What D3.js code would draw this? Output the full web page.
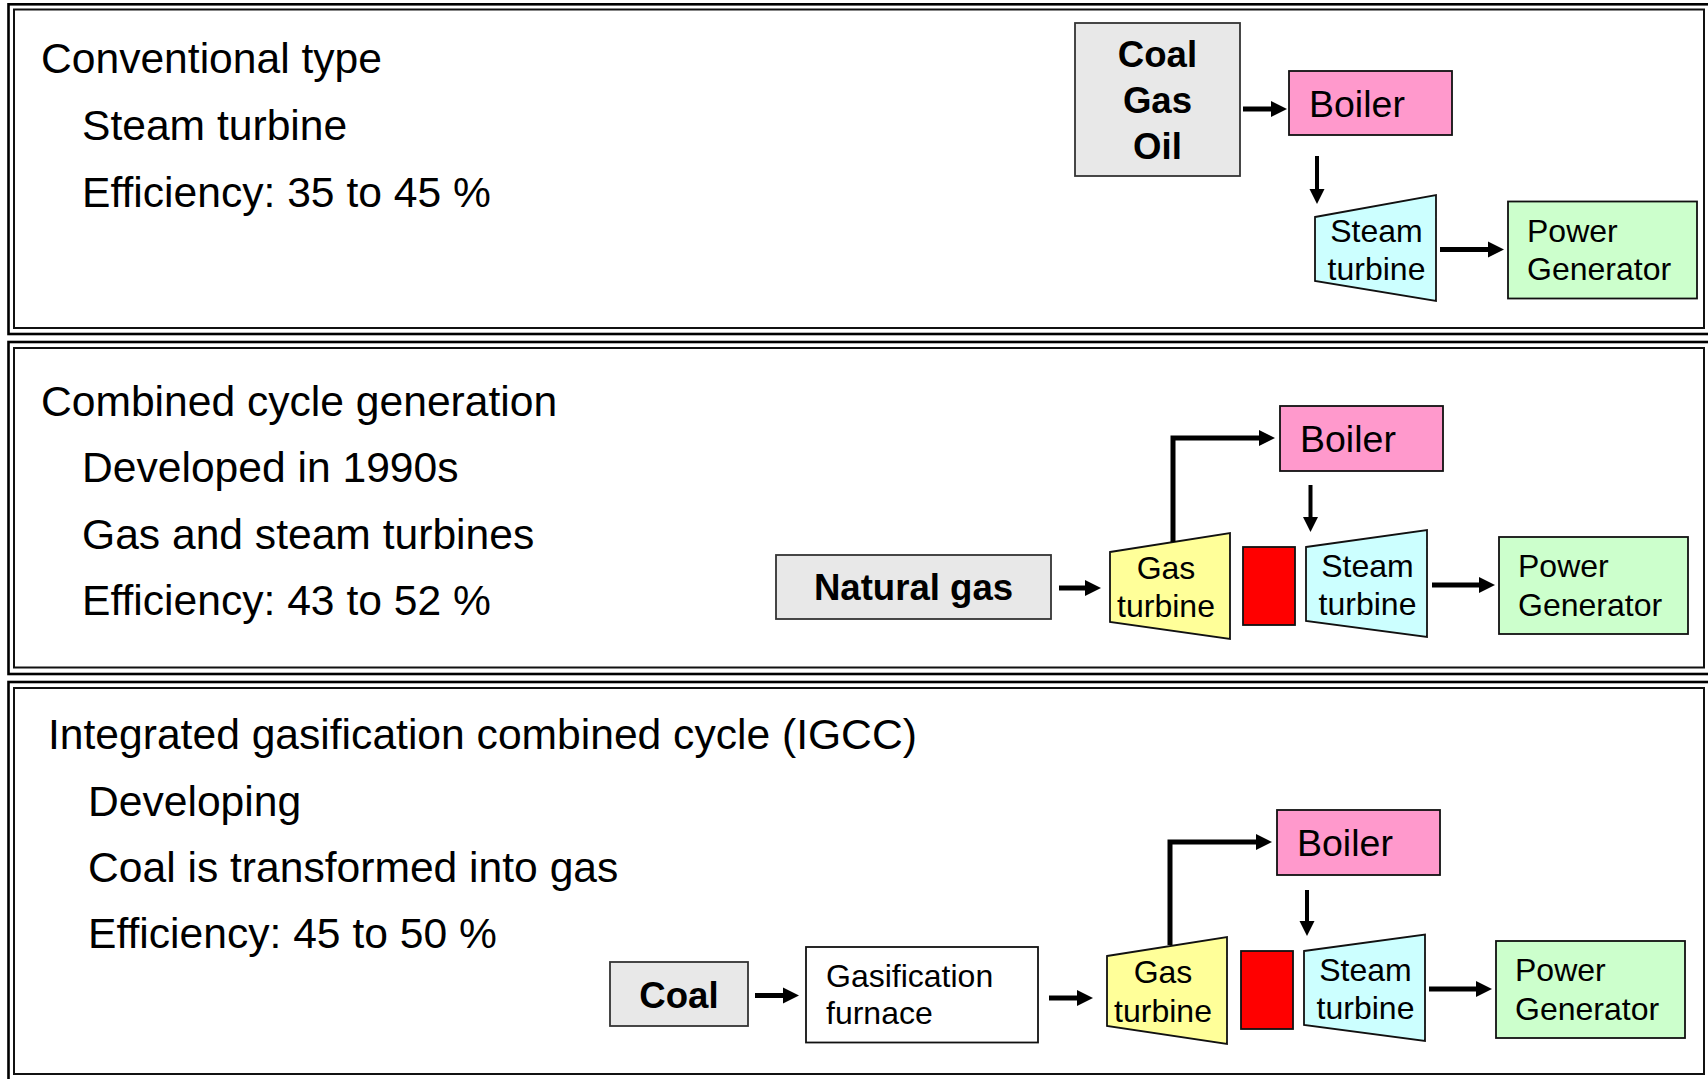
<!DOCTYPE html>
<html>
<head>
<meta charset="utf-8">
<script src="https://cdn.jsdelivr.net/npm/d3@7/dist/d3.min.js"></script>
<style>
  html, body { margin: 0; padding: 0; background: #fff; }
  svg { display: block; }
  text { font-family: "Liberation Sans", Arial, Helvetica, sans-serif; fill: #000; }
</style>
</head>
<body>
<svg id="chart" width="1708" height="1079"></svg>
<script>
// ---------- DATA (texts only) ----------
const panelTitles = [
  "Conventional type",
  "Combined cycle generation",
  "Integrated gasification combined cycle (IGCC)"
];
const panelNotes = [
  ["Steam turbine", "Efficiency: 35 to 45 %"],
  ["Developed in 1990s", "Gas and steam turbines", "Efficiency: 43 to 52 %"],
  ["Developing", "Coal is transformed into gas", "Efficiency: 45 to 50 %"]
];
const fuelLabels = [["Coal", "Gas", "Oil"], ["Natural gas"], ["Coal"]];
const boilerLabel = ["Boiler"];
const steamTurbineLabel = ["Steam", "turbine"];
const gasTurbineLabel = ["Gas", "turbine"];
const generatorLabel = ["Power", "Generator"];
const furnaceLabel = ["Gasification", "furnace"];

// ---------- LAYOUT ----------
const colors = {
  fuel: "#e8e8e8", boiler: "#ff99cc", steam: "#ccffff",
  gen: "#ccffcc", gas: "#ffff99", red: "#ff0000", furnace: "#ffffff"
};

const svg = d3.select("#chart");

// panel frames: outer thick + inner thin
const panels = [
  { outer: [8.5, 4.3, 1710, 334], inner: [14, 9.5, 1704, 328],
    title: [41, 73], notesX: 82, notesY: [140, 207] },
  { outer: [8.5, 342, 1710, 674], inner: [14, 348, 1704, 667.5],
    title: [41, 416], notesX: 82, notesY: [482, 549, 615] },
  { outer: [8.5, 682, 1710, 1082], inner: [14, 688, 1704, 1074],
    title: [48, 749], notesX: 88, notesY: [816, 882, 948] }
];

panels.forEach((p, i) => {
  const [ox0, oy0, ox1, oy1] = p.outer;
  const [ix0, iy0, ix1, iy1] = p.inner;
  svg.append("rect").attr("x", ox0).attr("y", oy0)
    .attr("width", ox1 - ox0).attr("height", oy1 - oy0)
    .attr("fill", "none").attr("stroke", "#000").attr("stroke-width", 2.6);
  svg.append("rect").attr("x", ix0).attr("y", iy0)
    .attr("width", ix1 - ix0).attr("height", iy1 - iy0)
    .attr("fill", "none").attr("stroke", "#111").attr("stroke-width", 2);
  svg.append("text").attr("x", p.title[0]).attr("y", p.title[1])
    .attr("font-size", 42.6).text(panelTitles[i]);
  svg.selectAll(null).data(panelNotes[i]).enter().append("text")
    .attr("x", p.notesX).attr("y", (d, j) => p.notesY[j])
    .attr("font-size", 42.6).text(d => d);
});

// boxes
function box(x0, y0, x1, y1, fill, lines, opt) {
  opt = opt || {};
  svg.append("rect").attr("x", x0).attr("y", y0)
    .attr("width", x1 - x0).attr("height", y1 - y0)
    .attr("fill", fill).attr("stroke", opt.stroke || "#111")
    .attr("stroke-width", opt.sw || 1.8);
  const t = svg.append("g");
  t.selectAll("text").data(lines).enter().append("text")
    .attr("x", opt.anchor === "middle" ? (x0 + x1) / 2 : opt.tx)
    .attr("y", (d, j) => opt.ty[j])
    .attr("text-anchor", opt.anchor || "start")
    .attr("font-size", opt.fs || 32)
    .attr("font-weight", opt.bold ? "bold" : "normal")
    .text(d => d);
}

// trapezoid turbine: left x, left top/bottom, right x, right top/bottom
function turbine(lx, lt, lb, rx, rt, rb, fill, lines, ty, dx) {
  const pts = [[lx, lt], [rx, rt], [rx, rb], [lx, lb]];
  svg.append("path").attr("d", d3.line()(pts) + "Z")
    .attr("fill", fill).attr("stroke", "#111").attr("stroke-width", 1.8);
  svg.selectAll(null).data(lines).enter().append("text")
    .attr("x", (lx + rx) / 2 + (dx || 0)).attr("y", (d, j) => ty[j])
    .attr("text-anchor", "middle").attr("font-size", 32).text(d => d);
}

// arrows
function arrow(points, w, hl, hw) {
  const n = points.length;
  const [ex, ey] = points[n - 1];
  const [px, py] = points[n - 2];
  const dx = Math.sign(ex - px), dy = Math.sign(ey - py);
  const linePts = points.slice(0, n - 1).concat([[ex - dx * hl + dx * 1, ey - dy * hl + dy * 1]]);
  svg.append("path").attr("d", d3.line()(linePts))
    .attr("fill", "none").attr("stroke", "#000").attr("stroke-width", w)
    .attr("stroke-linejoin", "miter");
  const bx = ex - dx * hl, by = ey - dy * hl;
  const head = [[ex, ey], [bx - dy * hw / 2, by + dx * hw / 2], [bx + dy * hw / 2, by - dx * hw / 2]];
  svg.append("path").attr("d", d3.line()(head) + "Z").attr("fill", "#000");
}

// ---- Panel 1 ----
box(1075, 23, 1240, 176, colors.fuel, fuelLabels[0],
  { anchor: "middle", bold: true, fs: 36.6, ty: [67, 113, 159], stroke: "#333" });
arrow([[1243, 109], [1287, 109]], 5, 16, 16);
box(1289, 71, 1452, 135, colors.boiler, boilerLabel, { tx: 1309, ty: [117], fs: 37.5 });
arrow([[1317, 156], [1317, 204]], 4, 15, 15);
turbine(1315, 217, 281, 1436, 195, 301, colors.steam, steamTurbineLabel, [242, 280], 1);
arrow([[1440, 249.5], [1504, 249.5]], 5, 16, 16);
box(1508, 201.5, 1697, 298.5, colors.gen, generatorLabel, { tx: 1527, ty: [242, 280], fs: 32 });

// ---- Panel 2 ----
box(776, 555, 1051, 619, colors.fuel, fuelLabels[1],
  { anchor: "middle", bold: true, fs: 36.6, ty: [600], stroke: "#333" });
arrow([[1059, 588], [1101, 588]], 5, 16, 16);
turbine(1110, 552, 622, 1230, 533, 639, colors.gas, gasTurbineLabel, [579, 617], -4);
svg.append("rect").attr("x", 1243).attr("y", 547).attr("width", 52).attr("height", 78)
  .attr("fill", colors.red).attr("stroke", "#111").attr("stroke-width", 1.8);
turbine(1306, 547, 621, 1427, 530, 637, colors.steam, steamTurbineLabel, [577, 615], 1);
arrow([[1432, 585], [1495, 585]], 5, 16, 16);
box(1499, 537, 1688, 634, colors.gen, generatorLabel, { tx: 1518, ty: [577, 616], fs: 32 });
box(1280, 406, 1443, 471, colors.boiler, boilerLabel, { tx: 1300, ty: [452], fs: 37.5 });
arrow([[1173, 542], [1173, 438], [1275, 438]], 5, 16, 16);
arrow([[1310.5, 485], [1310.5, 532]], 4, 15, 15);

// ---- Panel 3 ----
box(610, 962, 748, 1026, colors.fuel, fuelLabels[2],
  { anchor: "middle", bold: true, fs: 36.6, ty: [1008], stroke: "#333" });
arrow([[755, 995.5], [799, 995.5]], 5, 16, 16);
box(806, 947, 1038, 1042.5, colors.furnace, furnaceLabel, { tx: 826, ty: [987, 1024], fs: 32 });
arrow([[1049, 998], [1093, 998]], 5, 16, 16);
turbine(1107, 956, 1026, 1227, 937, 1044, colors.gas, gasTurbineLabel, [983, 1022], -4);
svg.append("rect").attr("x", 1241).attr("y", 951).attr("width", 52).attr("height", 78)
  .attr("fill", colors.red).attr("stroke", "#111").attr("stroke-width", 1.8);
turbine(1304, 951, 1025, 1425, 934.5, 1041, colors.steam, steamTurbineLabel, [981, 1019], 1);
arrow([[1429, 989], [1492, 989]], 5, 16, 16);
box(1496, 941, 1685, 1038, colors.gen, generatorLabel, { tx: 1515, ty: [981, 1020], fs: 32 });
box(1277, 810, 1440, 875, colors.boiler, boilerLabel, { tx: 1297, ty: [856], fs: 37.5 });
arrow([[1170, 945], [1170, 842], [1272, 842]], 5, 16, 16);
arrow([[1307, 890], [1307, 936]], 4, 15, 15);
</script>
</body>
</html>
